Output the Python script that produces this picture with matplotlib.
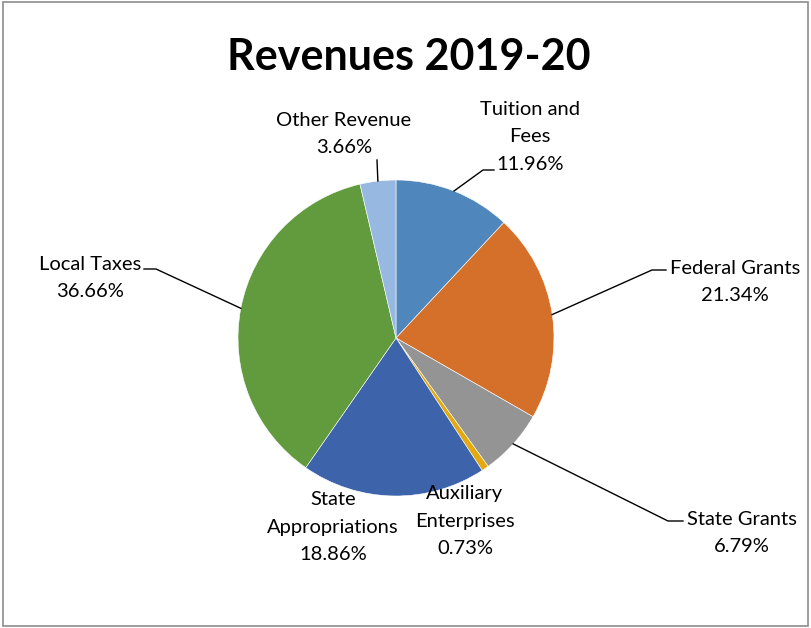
import numpy as np
import matplotlib.pyplot as plt
from matplotlib.patches import Rectangle

labels = ['Tuition and\nFees', 'Federal Grants', 'State Grants', 'Auxiliary\nEnterprises',
          'State\nAppropriations', 'Local Taxes', 'Other Revenue']
shares = [11.96, 21.34, 6.79, 0.73, 18.86, 36.66, 3.66]
colors = ['#4F87BD', '#D5702B', '#949494', '#E3A90F', '#3D63AB', '#629A3E', '#97B9E1']

W, H = 811, 628
plt.rcParams['font.family'] = ['Lato', 'DejaVu Sans']

fig = plt.figure(figsize=(W / 100, H / 100), dpi=100)
ax = fig.add_axes([0, 0, 1, 1])

def py(y):
    # pixel row (from top) to data y
    return H - y

cx, cy, r = 396, py(338), 158
wedges, _ = ax.pie(shares, colors=colors, startangle=90, counterclock=False,
                   center=(cx, cy), radius=r, frame=True,
                   wedgeprops=dict(edgecolor='white', linewidth=0.4))
ax.set_xlim(0, W)
ax.set_ylim(0, H)
ax.set_aspect('equal')
ax.axis('off')

# chart border
ax.add_patch(Rectangle((3, 2), W - 6, H - 4, fill=False, edgecolor='#8c8c8c', lw=1.2))

ax.text(409, py(57), 'Revenues 2019-20', ha='center', va='center',
        fontsize=31, fontweight='bold')

# label placement (pixel coords), and leader line elbow / end points
label_pos = [(530, 137), (735, 282), (742, 533), (465, 521), (333, 527), (90, 278), (344, 134)]
leaders = [[(483, 170), (494, 170)],
           [(652, 270), (666, 270)],
           [(668, 521), (683, 521)],
           None,
           None,
           [(156, 269), (144, 269)],
           [(377, 160)]]

for w, lab, s, (lx, ly), ld in zip(wedges, labels, shares, label_pos, leaders):
    ax.text(lx, py(ly), f'{lab}\n{s:.2f}%', ha='center', va='center',
            fontsize=14.5, linespacing=1.72)
    if ld:
        mid = np.deg2rad((w.theta1 + w.theta2) / 2)
        pts = [(cx + r * np.cos(mid), cy + r * np.sin(mid))] + [(x, py(y)) for x, y in ld]
        xs, ys = zip(*pts)
        ax.plot(xs, ys, color='black', lw=1)

fig.savefig('out.png', dpi=100)
